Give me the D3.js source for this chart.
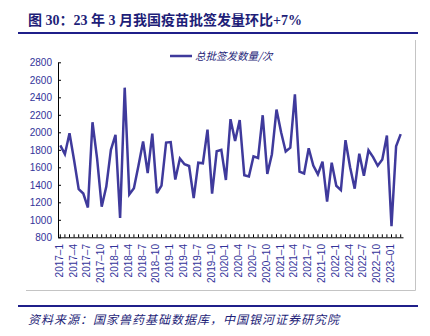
<!DOCTYPE html>
<html><head><meta charset="utf-8">
<script src="https://cdn.jsdelivr.net/npm/d3@7"></script>
<style>
html,body{margin:0;padding:0;background:#fff;}
svg{display:block;}
</style></head>
<body>
<svg id="c" width="430" height="336"></svg>
<script>
const title = "图 30：23 年 3 月我国疫苗批签发量环比+7%";
const source = "资料来源：国家兽药基础数据库，中国银河证券研究院";
const seriesName = "总批签发数量/次";
const years = [2017, 2018, 2019, 2020, 2021, 2022, 2023];
const values = [
  1850, 1750, 1990, 1680, 1350, 1300, 1140, 2115, 1700, 1150, 1380, 1800,
  1970, 1020, 2510, 1290, 1360, 1620, 1895, 1535, 1985, 1305, 1390, 1883,
  1888, 1460, 1700, 1635, 1615, 1247, 1653, 1646, 2030, 1300, 1783, 1800,
  1455, 2150, 1900, 2140, 1510, 1495, 1725, 1707, 2195, 1525, 1750, 2260,
  2000, 1780, 1825, 2435, 1550, 1530, 1818, 1620, 1520, 1665, 1208, 1653,
  1389, 1339, 1910, 1600, 1356, 1756, 1503, 1795, 1716, 1618, 1688, 1964,
  928, 1841, 1979
];
const yTicks = [800, 1000, 1200, 1400, 1600, 1800, 2000, 2200, 2400, 2600, 2800];
const tickLabels = [
  ["2017-1","2017–1"],["2017-4","2017–4"],["2017-7","2017–7"],["2017-10","2017–10"],
  ["2018-1","2018–1"],["2018-4","2018–4"],["2018-7","2018–7"],["2018-10","2018–10"],
  ["2019-1","2019–1"],["2019-4","2019–4"],["2019-7","2019–7"],["2019-10","2019–10"],
  ["2020-1","2020–1"],["2020-4","2020–4"],["2020-7","2020–7"],["2020-10","2020–10"],
  ["2021-1","2021–1"],["2021-4","2021–4"],["2021-7","2021–7"],["2021-10","2021–10"],
  ["2022-1","2022–1"],["2022-4","2022–4"],["2022-7","2022–7"],["2022-10","2022–10"],
  ["2023-1","2023–01"]
];
// month categories
const months = [];
years.forEach(y => { for (let m = 1; m <= 12; m++) months.push(y + "-" + m); });
const cats = months.slice(0, values.length);
const data = cats.map((c, i) => ({c, v: values[i]}));

const svg = d3.select("#c");
const navy = "#1e1e78";
const textBlue = "#33339a";
const lineColor = "#3f3a9c";

// title
svg.append("text").attr("x", 28).attr("y", 25)
  .attr("font-family", "'Liberation Serif','Noto Sans CJK SC',serif")
  .attr("font-weight", "bold").attr("font-size", 14).attr("fill", navy)
  .text(title);
svg.append("line").attr("x1", 18).attr("x2", 418).attr("y1", 33).attr("y2", 33)
  .attr("stroke", "#1f1f8a").attr("stroke-width", 2);

// frame (right & bottom gray)
svg.append("path").attr("d", "M415.5,40V290.5H26")
  .attr("fill", "none").attr("stroke", "#c4c4c4").attr("stroke-width", 1);

const x = d3.scaleBand().domain(cats).range([58, 403]);
const y = d3.scaleLinear().domain([800, 2800]).range([237.3, 62.3]);
const cx = c => x(c) + x.bandwidth() / 2;

// y axis
const gy = svg.append("g").attr("transform", "translate(58,0)")
  .call(d3.axisLeft(y).tickValues(yTicks).tickFormat(d3.format("d"))
    .tickSizeInner(-3).tickSizeOuter(0).tickPadding(6));
gy.select(".domain").attr("stroke", "#000");
gy.selectAll(".tick line").attr("stroke", "#000");
gy.selectAll("text").attr("fill", textBlue).attr("font-size", 10)
  .attr("font-family", "'Liberation Sans',Arial,sans-serif");

// x axis
const gx = svg.append("g").attr("transform", "translate(0,237.3)")
  .call(d3.axisBottom(x).tickSizeInner(-3).tickSizeOuter(0).tickFormat(""));
gx.select(".domain").attr("stroke", "#000");
gx.selectAll(".tick line").attr("stroke", "#000");

svg.append("g").selectAll("text").data(tickLabels).join("text")
  .attr("transform", d => `translate(${cx(d[0]) - 1},244) rotate(-90)`)
  .attr("text-anchor", "end").attr("dy", "0.35em")
  .attr("font-size", 10).attr("font-family", "'Liberation Sans',Arial,sans-serif")
  .attr("fill", textBlue).text(d => d[1]);

// line
svg.append("path").datum(data)
  .attr("fill", "none").attr("stroke", lineColor).attr("stroke-width", 2.5)
  .attr("stroke-linejoin", "miter").attr("stroke-miterlimit", 3)
  .attr("d", d3.line().x(d => cx(d.c)).y(d => y(d.v)));

// legend
svg.append("line").attr("x1", 170).attr("x2", 192).attr("y1", 56).attr("y2", 56)
  .attr("stroke", lineColor).attr("stroke-width", 2.5);
svg.append("text").attr("x", 195).attr("y", 56).attr("dy", "0.35em")
  .attr("font-size", 10.5).attr("font-style", "italic")
  .attr("font-family", "'Noto Sans CJK SC',sans-serif").attr("fill", navy)
  .text(seriesName);

// bottom rule and source
svg.append("line").attr("x1", 18).attr("x2", 418).attr("y1", 306).attr("y2", 306)
  .attr("stroke", "#1f1f8a").attr("stroke-width", 2);
svg.append("text").attr("x", 28).attr("y", 320).attr("dy", "0.35em")
  .attr("font-size", 12).attr("letter-spacing", 1).attr("font-style", "italic")
  .attr("font-family", "'Noto Sans CJK SC',sans-serif").attr("fill", navy)
  .text(source);
</script>
</body></html>
